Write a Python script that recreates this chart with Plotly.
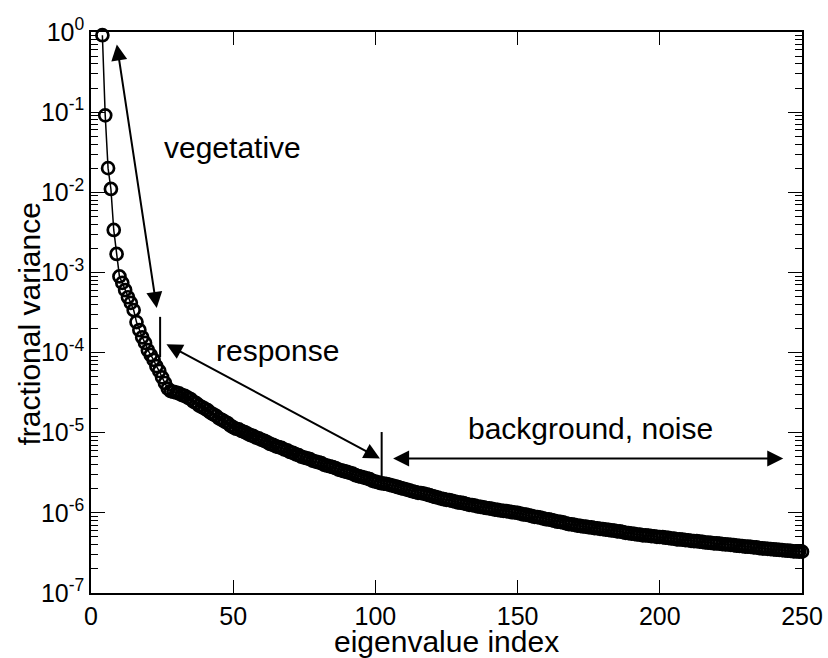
import plotly.graph_objects as go
import numpy as np

# ---- data ----
eigen_index = list(range(4, 251))
fractional_variance = [
    0.912, 9.12e-2, 2.00e-2, 1.10e-2, 3.39e-3, 1.70e-3,                      # 4-9
    8.91e-4, 7.41e-4, 6.03e-4, 4.90e-4, 4.17e-4, 3.39e-4, 2.40e-4, 1.91e-4, 1.55e-4, 1.32e-4,  # 10-19
    1.07e-4, 9.33e-5, 8.13e-5, 6.76e-5, 5.89e-5, 4.90e-5, 4.17e-5, 3.55e-5, 3.31e-5, 3.24e-5,  # 20-29
    3.16e-5, 3.09e-5, 2.95e-5, 2.88e-5, 2.75e-5, 2.63e-5, 2.45e-5, 2.34e-5, 2.19e-5, 2.09e-5,  # 30-39
    2.00e-5, 1.91e-5, 1.78e-5, 1.70e-5, 1.62e-5, 1.51e-5, 1.45e-5, 1.38e-5, 1.32e-5, 1.23e-5,  # 40-49
    1.17e-5, 1.12e-5, 1.10e-5, 1.05e-5, 1.02e-5, 9.77e-6, 9.33e-6, 9.12e-6, 8.71e-6, 8.51e-6,  # 50-59
    8.13e-6, 7.94e-6, 7.59e-6, 7.24e-6, 7.08e-6, 6.76e-6, 6.61e-6, 6.46e-6, 6.17e-6, 6.03e-6,  # 60-69
    5.75e-6, 5.62e-6, 5.37e-6, 5.25e-6, 5.01e-6, 4.90e-6, 4.79e-6, 4.68e-6, 4.47e-6, 4.37e-6,  # 70-79
    4.27e-6, 4.17e-6, 3.98e-6, 3.89e-6, 3.80e-6, 3.72e-6, 3.63e-6, 3.47e-6, 3.39e-6, 3.31e-6,  # 80-89
    3.24e-6, 3.16e-6, 3.09e-6, 2.95e-6, 2.88e-6, 2.82e-6, 2.75e-6, 2.69e-6, 2.63e-6, 2.51e-6,  # 90-99
    2.45e-6, 2.40e-6, 2.34e-6, 2.32e-6, 2.29e-6, 2.24e-6, 2.19e-6, 2.14e-6, 2.09e-6, 2.04e-6,  # 100-109
    2.00e-6, 1.95e-6, 1.91e-6, 1.86e-6, 1.82e-6, 1.78e-6, 1.77e-6, 1.74e-6, 1.70e-6, 1.66e-6,  # 110-119
    1.62e-6, 1.58e-6, 1.55e-6, 1.51e-6, 1.48e-6, 1.45e-6, 1.44e-6, 1.41e-6, 1.38e-6, 1.35e-6,  # 120-129
    1.34e-6, 1.32e-6, 1.29e-6, 1.26e-6, 1.25e-6, 1.23e-6, 1.20e-6, 1.19e-6, 1.17e-6, 1.15e-6,  # 130-139
    1.14e-6, 1.12e-6, 1.10e-6, 1.09e-6, 1.07e-6, 1.06e-6, 1.05e-6, 1.04e-6, 1.02e-6, 1.01e-6,  # 140-149
    1.00e-6, 9.77e-7, 9.55e-7, 9.50e-7, 9.33e-7, 9.12e-7, 8.91e-7, 8.85e-7, 8.71e-7, 8.51e-7,  # 150-159
    8.32e-7, 8.28e-7, 8.13e-7, 7.94e-7, 7.76e-7, 7.72e-7, 7.59e-7, 7.41e-7, 7.24e-7, 7.20e-7,  # 160-169
    7.08e-7, 6.92e-7, 6.89e-7, 6.76e-7, 6.73e-7, 6.61e-7, 6.58e-7, 6.46e-7, 6.43e-7, 6.31e-7,  # 170-179
    6.28e-7, 6.17e-7, 6.14e-7, 6.03e-7, 6.00e-7, 5.89e-7, 5.86e-7, 5.75e-7, 5.62e-7, 5.60e-7,  # 180-189
    5.50e-7, 5.47e-7, 5.37e-7, 5.35e-7, 5.25e-7, 5.23e-7, 5.21e-7, 5.13e-7, 5.11e-7, 5.01e-7,  # 190-199
    5.00e-7, 4.98e-7, 4.90e-7, 4.88e-7, 4.79e-7, 4.77e-7, 4.68e-7, 4.66e-7, 4.64e-7, 4.57e-7,  # 200-209
    4.55e-7, 4.47e-7, 4.45e-7, 4.43e-7, 4.37e-7, 4.35e-7, 4.27e-7, 4.25e-7, 4.23e-7, 4.17e-7,  # 210-219
    4.15e-7, 4.13e-7, 4.07e-7, 4.05e-7, 4.03e-7, 3.98e-7, 3.96e-7, 3.89e-7, 3.87e-7, 3.85e-7,  # 220-229
    3.80e-7, 3.78e-7, 3.76e-7, 3.72e-7, 3.70e-7, 3.63e-7, 3.61e-7, 3.59e-7, 3.55e-7, 3.53e-7,  # 230-239
    3.51e-7, 3.47e-7, 3.45e-7, 3.43e-7, 3.39e-7, 3.37e-7, 3.35e-7, 3.31e-7, 3.30e-7, 3.29e-7,  # 240-249
    3.28e-7,                                                                                 # 250
]

x_tick_vals = [0, 50, 100, 150, 200, 250]
y_tick_vals = [1e-7, 1e-6, 1e-5, 1e-4, 1e-3, 1e-2, 1e-1, 1e0]
y_tick_text = ["10<sup>-7</sup>", "10<sup>-6</sup>", "10<sup>-5</sup>", "10<sup>-4</sup>",
               "10<sup>-3</sup>", "10<sup>-2</sup>", "10<sup>-1</sup>", "10<sup>0</sup>"]
y_minor_vals = [k * 10.0 ** e for e in range(-7, 0) for k in range(2, 10)]

# region dividers (x, y_top, y_bottom)
divider_x = [24.3, 102.2]
divider_top = [2.79e-4, 1.02e-5]
divider_bottom = [8.8e-5, 2.69e-6]

# double-headed arrows: (x_start, y_start, x_end, y_end)
arrow_x0 = [9.0, 26.0, 105.7]
arrow_y0 = [0.73, 1.3e-4, 4.76e-6]
arrow_x1 = [23.1, 101.6, 243.4]
arrow_y1 = [3.6e-4, 4.76e-6, 4.76e-6]

label_text = ["vegetative", "response", "background, noise"]
label_x = [49.9, 65.6, 175.6]
label_y = [0.0366, 1.07e-4, 1.14e-5]

FONT = "Liberation Sans, Arial, Helvetica, sans-serif"

fig = go.Figure()
fig.add_trace(go.Scatter(
    x=eigen_index, y=fractional_variance, mode="lines+markers",
    line=dict(color="black", width=1.5),
    marker=dict(symbol="circle-open", size=12, color="black", line=dict(width=2.7, color="black")),
    cliponaxis=False, showlegend=False,
))
for xv, yt, yb in zip(divider_x, divider_top, divider_bottom):
    fig.add_trace(go.Scatter(x=[xv, xv], y=[yt, yb], mode="lines",
                             line=dict(color="black", width=2), showlegend=False,
                             hoverinfo="skip"))

for x0, y0, x1, y1 in zip(arrow_x0, arrow_y0, arrow_x1, arrow_y1):
    fig.add_annotation(
        x=x1, y=np.log10(y1), ax=x0, ay=np.log10(y0),
        xref="x", yref="y", axref="x", ayref="y", text="",
        showarrow=True, arrowside="end+start", arrowhead=2, startarrowhead=2,
        arrowsize=1.6, startarrowsize=1.6, arrowwidth=2, arrowcolor="black",
        standoff=0, startstandoff=0,
    )

for t, xv, yv in zip(label_text, label_x, label_y):
    fig.add_annotation(x=xv, y=np.log10(yv), xref="x", yref="y", text=t,
                       showarrow=False, font=dict(family=FONT, size=30, color="black"))

# axis titles
fig.add_annotation(x=-0.086, y=0.48, xref="paper", yref="paper", text="fractional variance",
                   textangle=-90, showarrow=False, xanchor="center", yanchor="middle",
                   font=dict(family=FONT, size=30, color="black"))
fig.add_annotation(x=0.5, y=-0.0865, xref="paper", yref="paper", text="eigenvalue index",
                   showarrow=False, xanchor="center", yanchor="middle",
                   font=dict(family=FONT, size=30, color="black"))

fig.update_layout(
    width=828, height=658,
    margin=dict(l=91, r=26, t=32, b=65),
    paper_bgcolor="white", plot_bgcolor="white",
    font=dict(family=FONT, color="black"),
    xaxis=dict(
        range=[0, 250], tickmode="array", tickvals=x_tick_vals, automargin=False,
        ticks="inside", ticklen=13, tickwidth=1.2, tickcolor="black",
        showline=True, linecolor="black", linewidth=1.5, mirror="ticks",
        showgrid=False, zeroline=False,
        tickfont=dict(family=FONT, size=25, color="black"),
    ),
    yaxis=dict(
        type="log", range=[-7, 0], tickmode="array", tickvals=y_tick_vals, ticktext=y_tick_text,
        automargin=False,
        ticks="inside", ticklen=14, tickwidth=1.2, tickcolor="black",
        minor=dict(tickmode="array", tickvals=y_minor_vals, ticks="inside", ticklen=7,
                   tickwidth=1, tickcolor="black", showgrid=False),
        showline=True, linecolor="black", linewidth=1.5, mirror="ticks",
        showgrid=False, zeroline=False,
        tickfont=dict(family=FONT, size=25, color="black"),
    ),
)

fig.write_html("out.html", config={"displayModeBar": False},
               post_script="document.body.style.margin='0px';document.body.style.overflow='hidden';")
